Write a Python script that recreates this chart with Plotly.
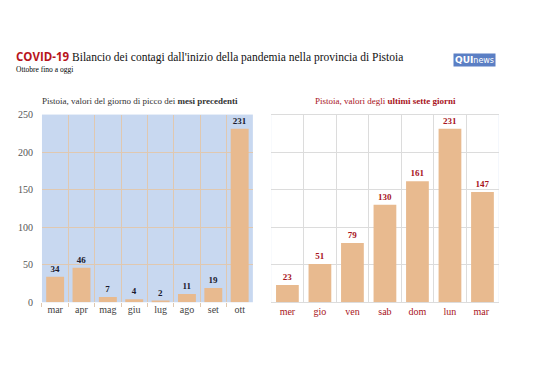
import plotly.graph_objects as go

months = ["mar", "apr", "mag", "giu", "lug", "ago", "set", "ott"]
month_values = [34, 46, 7, 4, 2, 11, 19, 231]
days = ["mer", "gio", "ven", "sab", "dom", "lun", "mar "]
day_values = [23, 51, 79, 130, 161, 231, 147]
y_ticks = [0, 50, 100, 150, 200, 250]

BAR = "#e8ba8f"
DARKRED = "#a8141c"
SERIF = "Liberation Serif, Times New Roman, serif"
GRID_L = "#e0c8b0"

fig = go.Figure()
fig.add_trace(go.Bar(
    x=months, y=month_values, xaxis="x", yaxis="y",
    marker=dict(color=BAR, line=dict(width=0)), width=0.68,
    text=[str(v) for v in month_values], textposition="outside",
    textfont=dict(family=SERIF, size=9, color="#1a1a2e"),
    texttemplate="<b>%{text}</b>", cliponaxis=False, hoverinfo="skip",
))
fig.add_trace(go.Bar(
    x=days, y=day_values, xaxis="x2", yaxis="y2",
    marker=dict(color=BAR, line=dict(width=0)), width=0.7,
    text=[str(v) for v in day_values], textposition="outside",
    textfont=dict(family=SERIF, size=9, color=DARKRED),
    texttemplate="<b>%{text}</b>", cliponaxis=False, hoverinfo="skip",
))

fig.update_layout(
    width=538, height=380,
    margin=dict(l=0, r=0, t=0, b=0),
    paper_bgcolor="white",
    showlegend=False,
    xaxis=dict(domain=[0.078, 0.470], anchor="y", tickson="boundaries",
               showgrid=True, gridcolor=GRID_L, gridwidth=1,
               ticks="outside", ticklen=4, tickcolor=GRID_L,
               tickfont=dict(family=SERIF, size=10, color="#444"),
               showline=False, fixedrange=True),
    yaxis=dict(domain=[0.195, 0.705], anchor="x", range=[0, 250],
               tickvals=y_ticks, showgrid=True, gridcolor=GRID_L,
               tickfont=dict(family=SERIF, size=10, color="#555"),
               zeroline=False, showline=False, ticks="outside", ticklen=6,
               tickcolor="rgba(0,0,0,0)", fixedrange=True),
    xaxis2=dict(domain=[0.504, 0.927], anchor="y2", tickson="boundaries",
                showgrid=True, gridcolor="#dcdcdc", gridwidth=1,
                ticks="", tickfont=dict(family=SERIF, size=10, color=DARKRED),
                showline=True, linecolor="#dcdcdc", mirror=True, fixedrange=True),
    yaxis2=dict(domain=[0.195, 0.705], anchor="x2", range=[0, 250],
                tickvals=y_ticks, showgrid=True, gridcolor="#dcdcdc",
                showticklabels=False, zeroline=False, showline=False,
                fixedrange=True),
    plot_bgcolor="#c8d8f0",
    shapes=[
        dict(type="rect", xref="x2 domain", yref="y2 domain", x0=0, x1=1, y0=0, y1=1,
             fillcolor="white", line=dict(width=0), layer="below"),
    ],
    annotations=[
        dict(text="<span style='font-family:Open Sans, sans-serif;color:#b8141c'><b>COVID-19</b></span> Bilancio dei contagi dall'inizio della pandemia nella provincia di Pistoia",
             x=14, y=52, xref="paper", yref="paper", showarrow=False, xanchor="left", yanchor="middle",
             font=dict(family=SERIF, size=11.5, color="#111")),
        dict(text="Ottobre fino a oggi", x=14, y=66, xref="paper", yref="paper", showarrow=False,
             xanchor="left", yanchor="middle", font=dict(family=SERIF, size=7.5, color="#000000")),
        dict(text="<b>QUI</b><span style='font-size:8px'>news</span>", x=474, y=56,
             xref="paper", yref="paper", showarrow=False, xanchor="center", yanchor="middle",
             bgcolor="#5b7fc4", borderpad=1,
             font=dict(family="DejaVu Sans, sans-serif", size=9, color="white")),
        dict(text="Pistoia, valori del giorno di picco dei <b>mesi precedenti</b>", x=140, y=98,
             xref="paper", yref="paper", showarrow=False, xanchor="center", yanchor="middle",
             font=dict(family=SERIF, size=9, color="#333")),
        dict(text="Pistoia, valori degli <b>ultimi sette giorni</b>", x=385, y=98,
             xref="paper", yref="paper", showarrow=False, xanchor="center", yanchor="middle",
             font=dict(family=SERIF, size=9, color=DARKRED)),
    ],
)

# convert pixel-based annotation positions to paper coords
for a in fig.layout.annotations:
    a.x = a.x / 538
    a.y = 1 - a.y / 380

fig.write_html("out.html", config={"displayModeBar": False},
               post_script="document.body.style.margin='0';document.body.style.overflow='hidden';")
